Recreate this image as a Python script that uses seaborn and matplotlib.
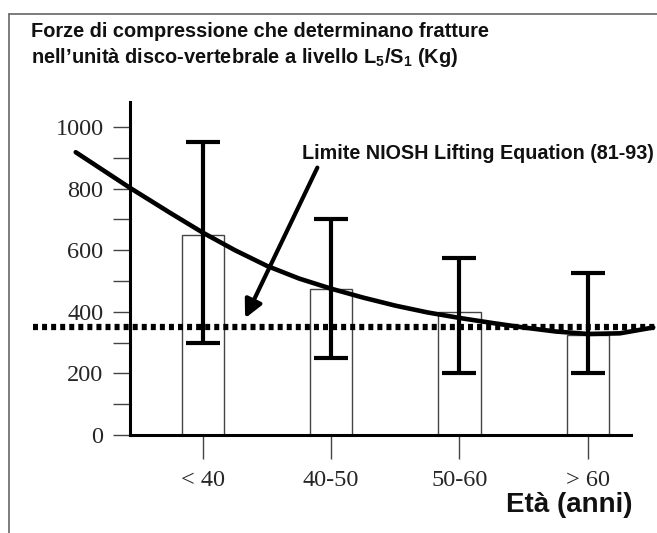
import matplotlib
matplotlib.use("Agg")
import matplotlib.pyplot as plt
from matplotlib.lines import Line2D
import seaborn as sns
import pandas as pd
import numpy as np

# ---- data ----
categories = ["< 40", "40-50", "50-60", "> 60"]
bar_values = [650, 475, 400, 325]
err_low = [300, 250, 200, 200]
err_high = [950, 700, 575, 525]
limit_value = 350
curve_x = [-0.99, -0.57, -0.25, 0.0, 0.25, 0.5, 0.75, 1.0, 1.25, 1.5, 1.75,
           2.0, 2.25, 2.5, 2.75, 3.0, 3.25, 3.51]
curve_y = [918, 803, 720, 657, 600, 549, 508, 475, 446, 420, 398,
           380, 364, 349, 336, 328, 330, 349]
y_major = [0, 200, 400, 600, 800, 1000]
y_minor = [100, 300, 500, 700, 900]

title_l1 = "Forze di compressione che determinano fratture"
title_l2 = r"nell’unità disco-vertebrale a livello $\mathbf{L_5/S_1}$ (Kg)"
limit_label = "Limite NIOSH Lifting Equation (81-93)"
xlabel = "Età (anni)"

sns.set_theme(style="white")
plt.rcParams["font.family"] = ["Liberation Sans", "DejaVu Sans"]
plt.rcParams["mathtext.fontset"] = "custom"
plt.rcParams["mathtext.bf"] = "Liberation Sans:bold"
plt.rcParams["mathtext.rm"] = "Liberation Sans"

W, H = 657, 533
fig = plt.figure(figsize=(W / 100, H / 100), dpi=100)
ax = fig.add_axes([130 / W, 1 - 435 / H, (631 - 130) / W, (435 - 102.3) / H])

df = pd.DataFrame({"cat": categories, "val": bar_values})
sns.barplot(data=df, x="cat", y="val", color="white", edgecolor="#444444",
            linewidth=1.0, width=0.33, ax=ax, zorder=2)
for p in ax.patches:
    p.set_facecolor("white")

pos = np.arange(len(categories))
vals = np.array(bar_values)
yerr = [vals - np.array(err_low), np.array(err_high) - vals]
ax.errorbar(pos, vals, yerr=yerr, fmt="none", ecolor="black", elinewidth=3.0,
            capsize=12.5, capthick=3.0, zorder=4)

sns.lineplot(x=curve_x, y=curve_y, ax=ax, color="black", linewidth=3.3,
             sort=False, estimator=None, clip_on=False, zorder=5)

ax.plot([-1.322, 3.56], [limit_value, limit_value], color="black", linewidth=4.5,
        linestyle=(0, (0.8, 0.65)), dash_capstyle="butt", clip_on=False, zorder=6)

ax.annotate("", xy=(0.33, 379), xytext=(0.893, 868),
            arrowprops=dict(arrowstyle="-|>,head_length=0.9,head_width=0.45",
                            lw=3.0, color="black", shrinkA=0, shrinkB=0), zorder=6)
ax.text(0.774, 915, limit_label, ha="left", va="center", fontsize=14.2,
        fontweight="bold", color="#111111")

ax.set_xlim(-0.567, 3.337)
ax.set_ylim(0, 1080)
ax.set_yticks(y_major)
ax.set_yticks(y_minor, minor=True)
ax.set_yticklabels([str(v) for v in y_major])
ax.set_xlabel("")
ax.set_ylabel("")

for s in ["top", "right"]:
    ax.spines[s].set_visible(False)
for s in ["left", "bottom"]:
    ax.spines[s].set_linewidth(2.2)
    ax.spines[s].set_color("black")

ax.tick_params(axis="y", which="both", direction="out", length=12, width=1.0,
               color="#444444", pad=7, left=True)
ax.tick_params(axis="x", which="both", direction="out", length=17, width=1.0,
               color="#444444", pad=8, bottom=True)
for lab in ax.get_yticklabels():
    lab.set_fontfamily(["Liberation Serif", "DejaVu Serif"])
    lab.set_fontsize(17.5)
for lab in ax.get_xticklabels():
    lab.set_fontfamily(["Liberation Serif", "DejaVu Serif"])
    lab.set_fontsize(17.5)

fig.text(31 / W, 1 - 37 / H, title_l1, ha="left", va="baseline", fontsize=14.4,
         fontweight="bold", color="#111111")
fig.text(31 / W, 1 - 63 / H, title_l2, ha="left", va="baseline", fontsize=14.4,
         fontweight="bold", color="#111111")
fig.text(633 / W, 28 / H, xlabel, ha="right", va="center", fontsize=20,
         fontweight="bold", color="#111111")

fig.add_artist(Line2D([9 / W, 9 / W], [0, 1 - 14 / H], transform=fig.transFigure,
                      color="#666666", lw=1.2))
fig.add_artist(Line2D([9 / W, 1], [1 - 14 / H, 1 - 14 / H], transform=fig.transFigure,
                      color="#666666", lw=1.2))

fig.savefig("out.png", dpi=100)
